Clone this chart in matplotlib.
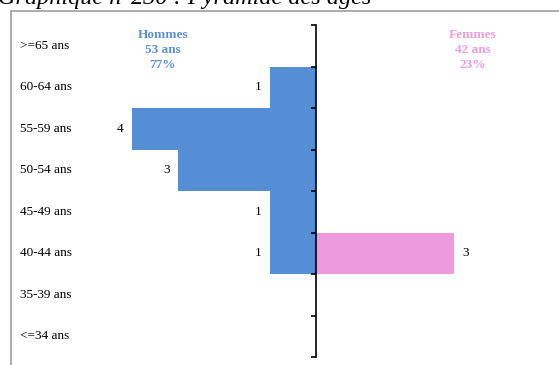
import matplotlib
matplotlib.use('Agg')
import matplotlib.pyplot as plt
from matplotlib.lines import Line2D
from matplotlib.transforms import blended_transform_factory

ages = ['>=65 ans', '60-64 ans', '55-59 ans', '50-54 ans', '45-49 ans', '40-44 ans', '35-39 ans', '<=34 ans']
hommes = [0, 1, 4, 3, 1, 1, 0, 0]
femmes = [0, 0, 0, 0, 0, 3, 0, 0]
hommes_info = 'Hommes\n53 ans\n77%'
femmes_info = 'Femmes\n42 ans\n23%'
title = 'Graphique n°230 : Pyramide des âges'

BLUE = '#558ed5'
PINK = '#ee9ade'
BLUE_TXT = '#5b8fdc'
PINK_TXT = '#f09ade'

plt.rcParams['font.family'] = ['Liberation Serif', 'DejaVu Serif']

W, H = 559, 365
fig = plt.figure(figsize=(W / 100, H / 100), dpi=100)

# frame of the screenshot (title is cut at the top, as in the source)
fig.add_artist(Line2D([10.5 / W, 10.5 / W], [0, 1 - 10.5 / H], color='#a6a6a6', lw=1.3))
fig.add_artist(Line2D([10.5 / W, 1], [1 - 10.5 / H, 1 - 10.5 / H], color='#a6a6a6', lw=1.3))
fig.text(-2 / W, 1 - 4 / H, title, fontsize=17.5, style='italic', ha='left', va='baseline')

ax = fig.add_axes([109 / W, 8 / H, 414 / W, 332 / H])
y = list(range(len(ages)))
ax.barh(y, [-v for v in hommes], height=1.0, color=BLUE, linewidth=0)
ax.barh(y, femmes, height=1.0, color=PINK, linewidth=0)
ax.set_xlim(-4.5, 4.5)
ax.set_ylim(len(ages) - 0.5, -0.5)

for s in ['top', 'right', 'bottom']:
    ax.spines[s].set_visible(False)
ax.set_xticks([])
ax.set_yticks([i - 0.5 for i in range(len(ages) + 1)])
ax.set_yticklabels([])
ax.tick_params(axis='y', direction='out', length=3.5, width=1.2, color='black', pad=0)
# y axis on the centre line
ax.spines['left'].set_position(('data', 0))
ax.spines['left'].set_linewidth(1.2)

trans = blended_transform_factory(fig.transFigure, ax.transData)
for i, label in enumerate(ages):
    ax.text(20 / W, i, label, transform=trans, ha='left', va='center', fontsize=9.5)

for i, v in enumerate(hommes):
    if v:
        ax.text(-v - 0.18, i, str(v), ha='right', va='center', fontsize=9.5)
for i, v in enumerate(femmes):
    if v:
        ax.text(v + 0.18, i, str(v), ha='left', va='center', fontsize=9.5)

ax.text(-3.33, 0.1, hommes_info, ha='center', va='center', fontsize=9.5,
        fontweight='bold', color=BLUE_TXT, linespacing=1.35)
ax.text(3.41, 0.1, femmes_info, ha='center', va='center', fontsize=9.5,
        fontweight='bold', color=PINK_TXT, linespacing=1.35)

fig.savefig('out.png', dpi=100)
